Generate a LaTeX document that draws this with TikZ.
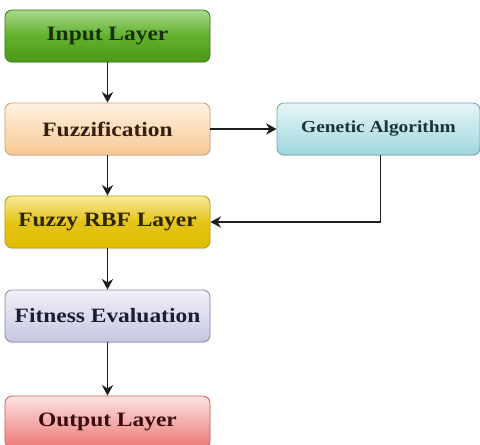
\documentclass[tikz,border=0pt]{standalone}
\usepackage{fontspec}
\setmainfont{Liberation Serif}
\newfontfamily\boxfont[FakeStretch=1.15]{Liberation Serif}
\usepackage{tikz}
\usetikzlibrary{positioning,calc,arrows.meta,shadows}
\definecolor{inptop}{HTML}{A6D98A}
\definecolor{inpmid}{HTML}{62B02C}
\definecolor{inpbot}{HTML}{4B9A17}
\definecolor{inpedge}{HTML}{3E7D15}
\definecolor{inptext}{HTML}{17300A}
\definecolor{fuztop}{HTML}{FFF1E2}
\definecolor{fuzbot}{HTML}{F8C893}
\definecolor{fuzedge}{HTML}{C9A27E}
\definecolor{fuztext}{HTML}{33200E}
\definecolor{gentop}{HTML}{E6F6F8}
\definecolor{genbot}{HTML}{9FD6DC}
\definecolor{genedge}{HTML}{6AA9AF}
\definecolor{gentext}{HTML}{1D3339}
\definecolor{rbftop}{HTML}{F8EA9A}
\definecolor{rbfbot}{HTML}{E0BD00}
\definecolor{rbfedge}{HTML}{BFA000}
\definecolor{rbftext}{HTML}{2E2400}
\definecolor{fittop}{HTML}{F1F1F8}
\definecolor{fitbot}{HTML}{C6C6E0}
\definecolor{fitedge}{HTML}{8E8EAE}
\definecolor{fittext}{HTML}{1C1C33}
\definecolor{outtop}{HTML}{FBE2E2}
\definecolor{outbot}{HTML}{EE7676}
\definecolor{outedge}{HTML}{CF6262}
\definecolor{outtext}{HTML}{3A0C0C}
\definecolor{linkgray}{HTML}{1E1E1E}
\tikzset{
  layerbox/.style={rounded corners=5pt,minimum width=5.125cm,minimum height=1.3cm,
    line width=0.6pt,font=\boxfont\fontsize{14.5}{17}\selectfont\bfseries,
    drop shadow={shadow xshift=0.4pt,shadow yshift=-0.8pt,opacity=0.25}},
  link/.style={draw=linkgray,line width=1.3pt,-{Stealth[length=7.5pt,width=8pt]}}
}
\begin{document}
\begin{tikzpicture}
  \useasboundingbox (0,0) rectangle (12,-11.125);
  % ---------- main column ----------
  \node[layerbox,draw=inpedge,top color=inptop,bottom color=inpbot,middle color=inpmid,text=inptext]
       (input) at (2.6875,-0.9){Input Layer};
  \node[layerbox,draw=fuzedge,top color=fuztop,bottom color=fuzbot,text=fuztext]
       (fuzz) at (2.6875,-3.225){Fuzzification};
  \node[layerbox,draw=rbfedge,top color=rbftop,bottom color=rbfbot,middle color=rbfbot!85!rbftop,text=rbftext]
       (rbf) at (2.6875,-5.55){Fuzzy RBF Layer};
  \node[layerbox,draw=fitedge,top color=fittop,bottom color=fitbot,text=fittext]
       (fit) at (2.6875,-7.9){Fitness Evaluation};
  \node[layerbox,draw=outedge,top color=outtop,bottom color=outbot,text=outtext]
       (out) at (2.6875,-10.55){Output Layer};
  % ---------- side box ----------
  \node[layerbox,minimum width=5.075cm,draw=genedge,top color=gentop,bottom color=genbot,text=gentext,
        font=\boxfont\fontsize{12}{14}\selectfont\bfseries]
       (gen) at (9.4625,-3.225){Genetic Algorithm};
  % ---------- connectors ----------
  \draw[link] (input) -- (fuzz);
  \draw[link] (fuzz) -- (rbf);
  \draw[link] (rbf) -- (fit);
  \draw[link] (fit) -- (out);
  \draw[link] (fuzz) -- (gen);
  \draw[link] ($(gen.south)+(0.05,0)$) |- (rbf.east);
\end{tikzpicture}
\end{document}
